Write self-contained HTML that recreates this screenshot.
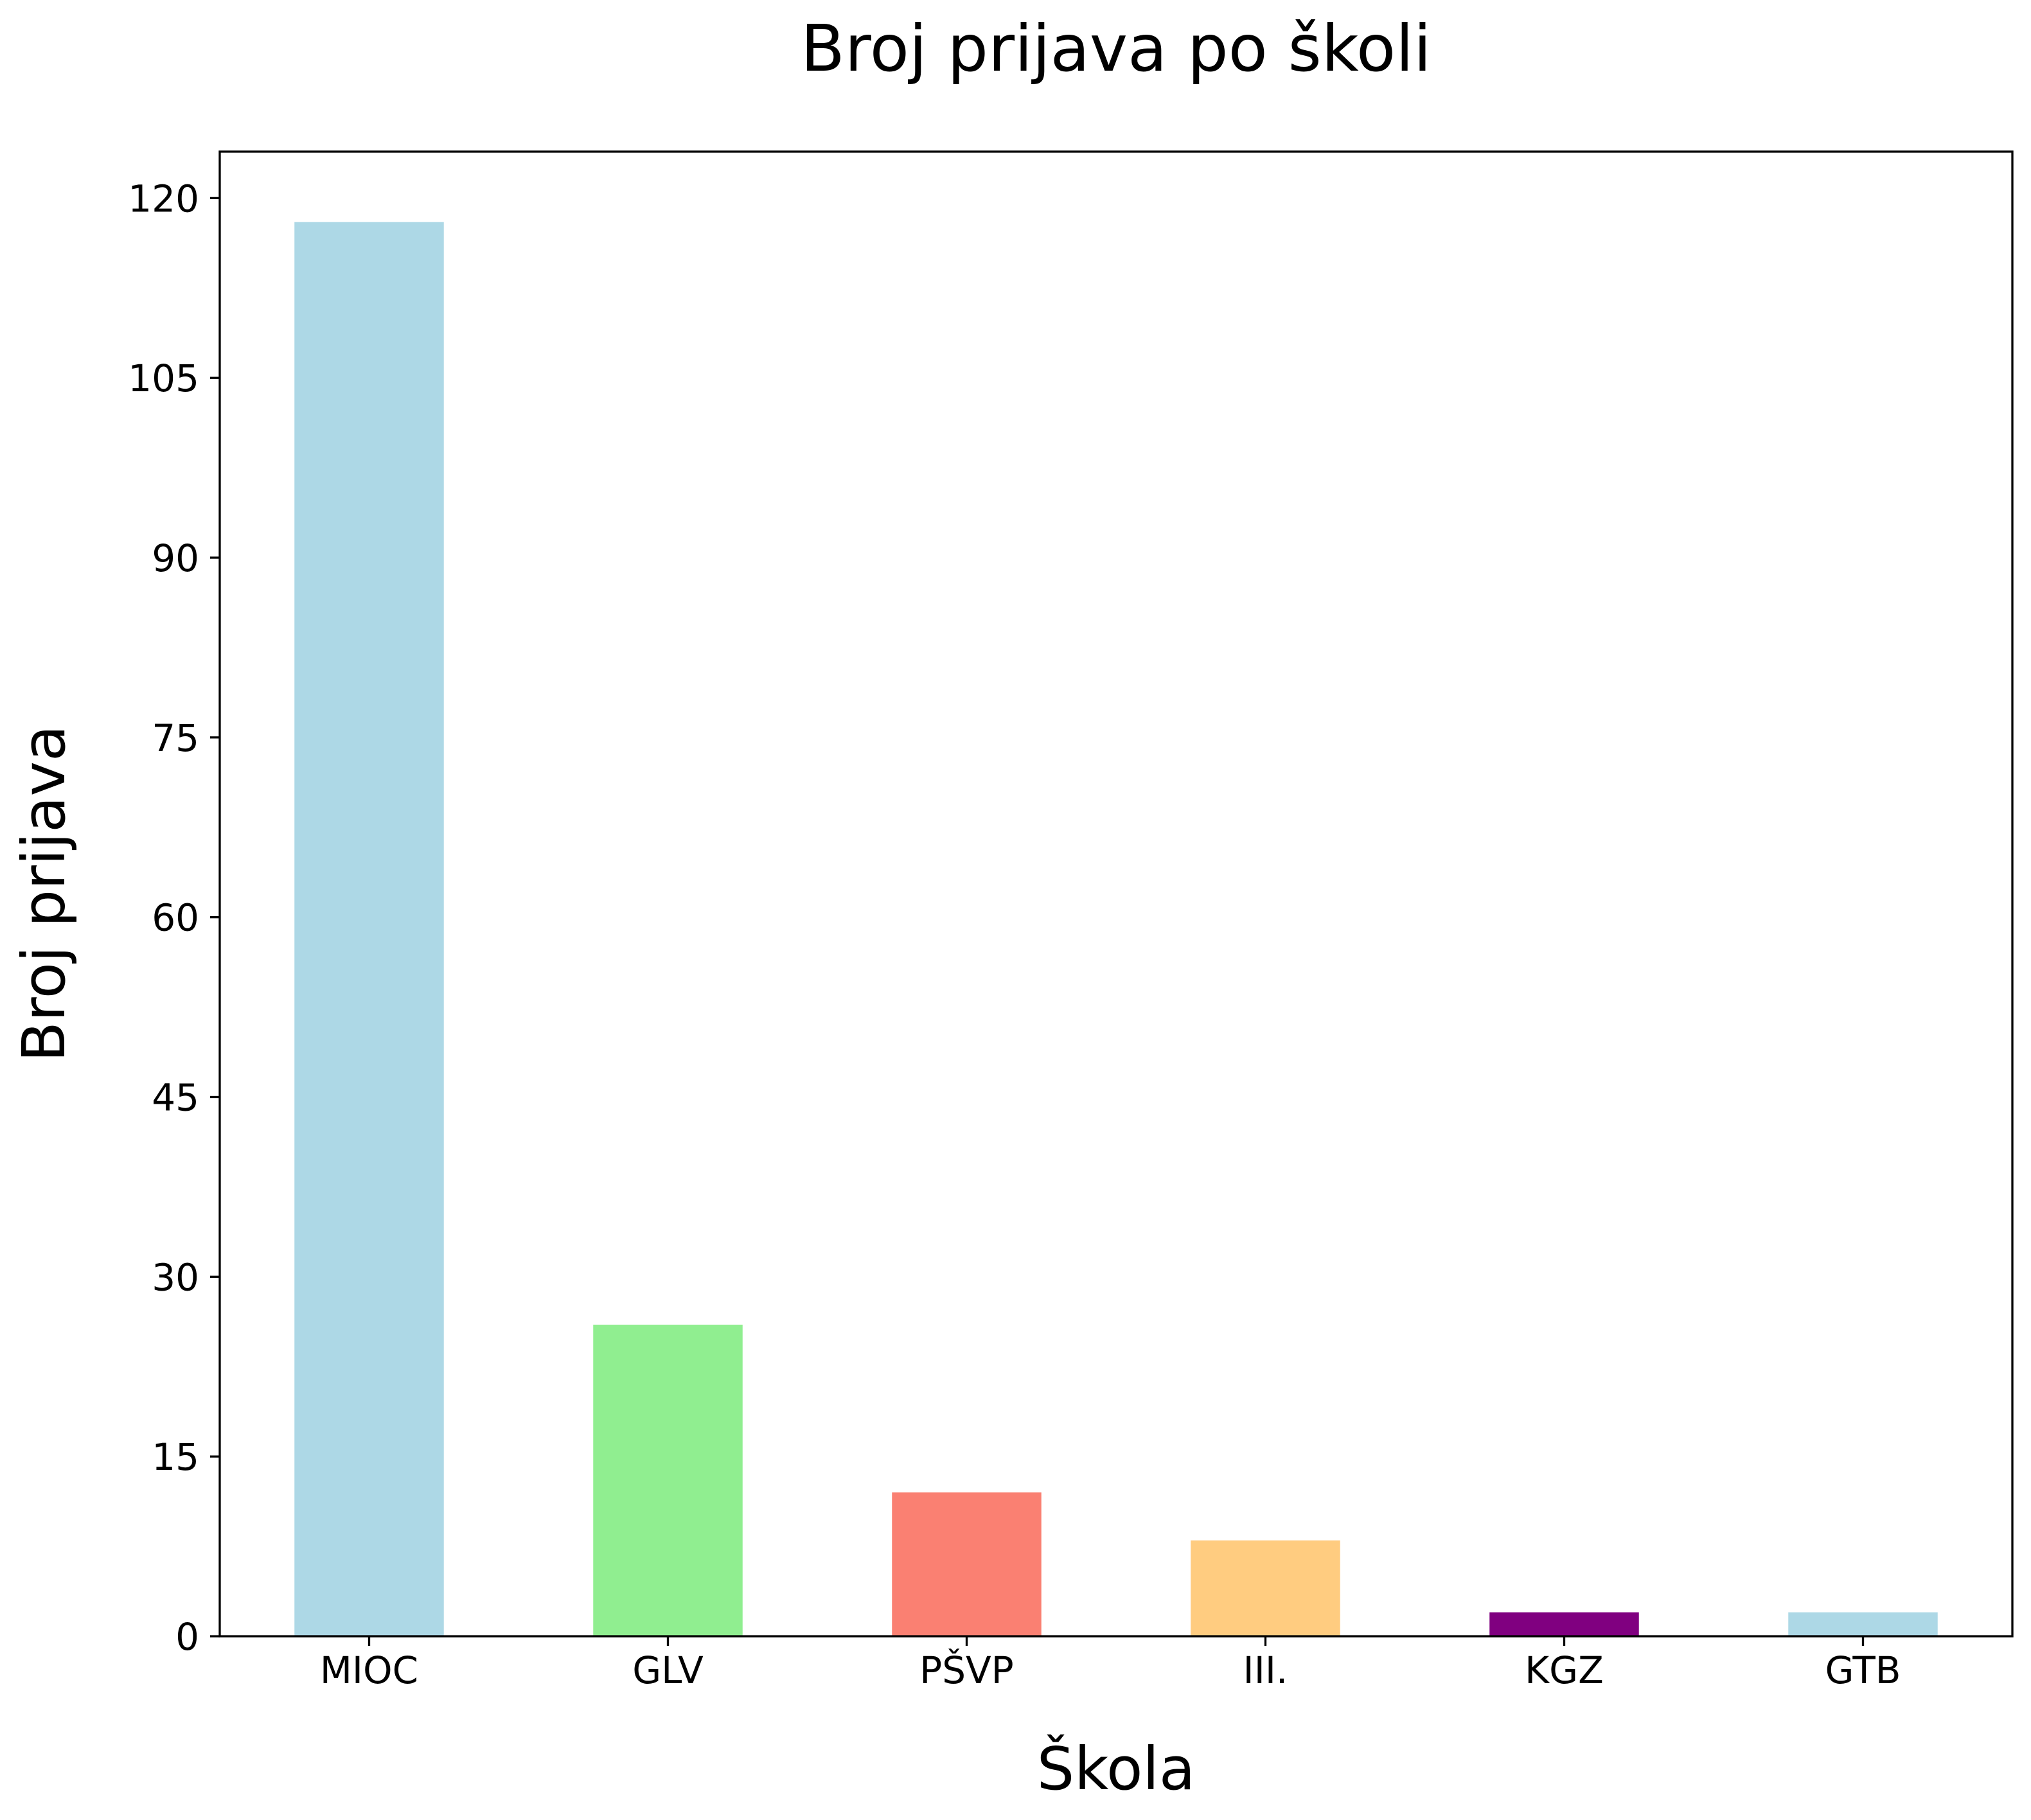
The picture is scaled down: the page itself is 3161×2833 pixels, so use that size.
<!DOCTYPE html>
<html><head><meta charset="utf-8"><style>
html,body{margin:0;padding:0;background:#fff;}
svg{display:block;font-family:"DejaVu Sans","Liberation Sans",sans-serif;}
</style></head><body>
<svg id="chart" width="3161" height="2833" viewBox="0 0 3161 2833" xmlns="http://www.w3.org/2000/svg">
<rect width="3161" height="2833" fill="#fff"/>
<text x="1737" y="110" font-size="100" text-anchor="middle">Broj prijava po školi</text>
<text x="1737" y="2785" font-size="92" text-anchor="middle">Škola</text>
<text transform="translate(100,1391) rotate(-90)" font-size="92" text-anchor="middle">Broj prijava</text>
<g id="bars"></g>
<g id="ticks"></g>
<rect x="342" y="236" width="2790" height="2311" fill="none" stroke="#000" stroke-width="3.3"/>
</svg>
<script>
const categories = ["MIOC","GLV","PŠVP","III.","KGZ","GTB"];
const values = [118,26,12,8,2,2];
const colors = ["#add8e6","#90ee90","#fa8072","#ffcc80","#800080","#add8e6"];
const yTicks = [0,15,30,45,60,75,90,105,120];

const L=342,R=3132,T=236,B=2547;
const yMin=0,yMax=123.88;
function y(v){return B-(v-yMin)/(yMax-yMin)*(B-T);}
const step=(R-L)/categories.length;
function x(i){return L+step*(i+0.5);}
const bw=step*0.5;
const NS="http://www.w3.org/2000/svg";
const bars=document.getElementById('bars');
const ticks=document.getElementById('ticks');
categories.forEach((c,i)=>{
  const r=document.createElementNS(NS,'rect');
  r.setAttribute('x',x(i)-bw/2);
  r.setAttribute('y',y(values[i]));
  r.setAttribute('width',bw);
  r.setAttribute('height',y(0)-y(values[i]));
  r.setAttribute('fill',colors[i]);
  
  
  bars.appendChild(r);
  const t=document.createElementNS(NS,'line');
  t.setAttribute('x1',x(i));t.setAttribute('x2',x(i));
  t.setAttribute('y1',B);t.setAttribute('y2',B+15);
  t.setAttribute('stroke','#000');t.setAttribute('stroke-width','3.3');
  
  
  ticks.appendChild(t);
  const l=document.createElementNS(NS,'text');
  l.setAttribute('x',x(i));l.setAttribute('y',2620);
  l.setAttribute('font-size','58');l.setAttribute('text-anchor','middle');
  l.textContent=c;
  
  
  ticks.appendChild(l);
});
yTicks.forEach(v=>{
  const t=document.createElementNS(NS,'line');
  t.setAttribute('x1',L-15);t.setAttribute('x2',L);
  t.setAttribute('y1',y(v));t.setAttribute('y2',y(v));
  t.setAttribute('stroke','#000');t.setAttribute('stroke-width','3.3');
  
  
  ticks.appendChild(t);
  const l=document.createElementNS(NS,'text');
  l.setAttribute('x',310);l.setAttribute('y',y(v)+21);
  l.setAttribute('font-size','58');l.setAttribute('text-anchor','end');
  l.textContent=v;
  
  
  ticks.appendChild(l);
});
</script>
</body></html>
